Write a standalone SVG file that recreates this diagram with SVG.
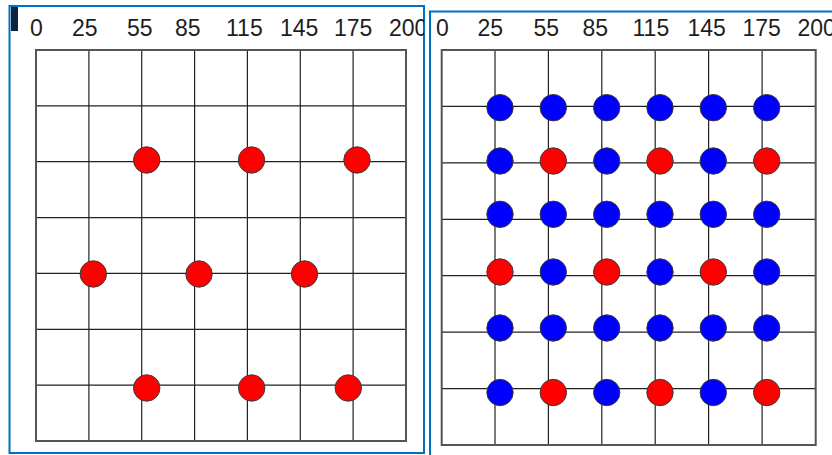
<svg xmlns="http://www.w3.org/2000/svg" width="832" height="455" viewBox="0 0 832 455">
<defs>
<clipPath id="lclip"><rect x="0" y="0" width="424" height="455"/></clipPath>
</defs>
<style>
.panel{fill:#fff;stroke:#0070c0;stroke-width:2}
.outer{fill:none;stroke:#555;stroke-width:2}
.grid{stroke:#222;stroke-width:1.2;fill:none}
.lbl{font-family:"Liberation Sans",Arial,sans-serif;font-size:23px;fill:#1e1e1e}
.r{fill:#ff0000;stroke:#3a3a3a;stroke-width:1}
.b{fill:#0000ff;stroke:#3a3a3a;stroke-width:1}
</style>
<rect width="832" height="455" fill="#fff"/>
<g id="left-panel">
<rect class="panel" x="9.5" y="6" width="414.5" height="447"/>
<rect x="11" y="7" width="7" height="24" fill="#0c2340"/>
<g class="lbl" clip-path="url(#lclip)">
<text x="30" y="35.5">0</text><text x="72" y="35.5">25</text><text x="127" y="35.5">55</text><text x="175" y="35.5">85</text><text x="226" y="35.5">115</text><text x="280" y="35.5">145</text><text x="334" y="35.5">175</text><text x="389" y="35.5">200</text>
</g>
<path class="grid" d="M88.9 50V441M141.7 50V441M194.6 50V441M247.4 50V441M300.3 50V441M353.1 50V441M36 105.9H406M36 161.7H406M36 217.6H406M36 273.4H406M36 329.3H406M36 385.1H406"/>
<rect class="outer" x="36" y="50" width="370" height="391"/>
</g>
<g id="left-dots">
<circle class="r" cx="146.7" cy="160" r="13.2"/><circle class="r" cx="251.5" cy="160" r="13.2"/><circle class="r" cx="357" cy="160" r="13.2"/>
<circle class="r" cx="93.3" cy="274" r="13.2"/><circle class="r" cx="199" cy="274" r="13.2"/><circle class="r" cx="304.5" cy="274" r="13.2"/>
<circle class="r" cx="146.7" cy="388" r="13.2"/><circle class="r" cx="251.7" cy="388" r="13.2"/><circle class="r" cx="348.3" cy="388" r="13.2"/>
</g>
<g id="right-panel">
<rect class="panel" x="430" y="11.5" width="420" height="460"/>
<g class="lbl">
<text x="436" y="35.5">0</text><text x="477.5" y="35.5">25</text><text x="533.5" y="35.5">55</text><text x="582.5" y="35.5">85</text><text x="632.5" y="35.5">115</text><text x="687.5" y="35.5">145</text><text x="742.5" y="35.5">175</text><text x="797.5" y="35.5">200</text>
</g>
<path class="grid" d="M495 50V445M548.4 50V445M601.8 50V445M655.2 50V445M708.6 50V445M762.1 50V445M441.7 106.4H815.7M441.7 162.9H815.7M441.7 219.3H815.7M441.7 275.7H815.7M441.7 332.1H815.7M441.7 388.6H815.7"/>
<rect class="outer" x="441.7" y="50" width="374" height="395"/>
</g>
<g id="right-dots">
<circle class="b" cx="500" cy="107.7" r="13.2"/><circle class="b" cx="553.3" cy="107.7" r="13.2"/><circle class="b" cx="606.7" cy="107.7" r="13.2"/><circle class="b" cx="660" cy="107.7" r="13.2"/><circle class="b" cx="713.3" cy="107.7" r="13.2"/><circle class="b" cx="766.7" cy="107.7" r="13.2"/>
<circle class="b" cx="500" cy="161" r="13.2"/><circle class="r" cx="553.3" cy="161" r="13.2"/><circle class="b" cx="606.7" cy="161" r="13.2"/><circle class="r" cx="660" cy="161" r="13.2"/><circle class="b" cx="713.3" cy="161" r="13.2"/><circle class="r" cx="766.7" cy="161" r="13.2"/>
<circle class="b" cx="500" cy="214.3" r="13.2"/><circle class="b" cx="553.3" cy="214.3" r="13.2"/><circle class="b" cx="606.7" cy="214.3" r="13.2"/><circle class="b" cx="660" cy="214.3" r="13.2"/><circle class="b" cx="713.3" cy="214.3" r="13.2"/><circle class="b" cx="766.7" cy="214.3" r="13.2"/>
<circle class="r" cx="500" cy="272" r="13.2"/><circle class="b" cx="553.3" cy="272" r="13.2"/><circle class="r" cx="606.7" cy="272" r="13.2"/><circle class="b" cx="660" cy="272" r="13.2"/><circle class="r" cx="713.3" cy="272" r="13.2"/><circle class="b" cx="766.7" cy="272" r="13.2"/>
<circle class="b" cx="500" cy="328" r="13.2"/><circle class="b" cx="553.3" cy="328" r="13.2"/><circle class="b" cx="606.7" cy="328" r="13.2"/><circle class="b" cx="660" cy="328" r="13.2"/><circle class="b" cx="713.3" cy="328" r="13.2"/><circle class="b" cx="766.7" cy="328" r="13.2"/>
<circle class="b" cx="500" cy="392.5" r="13.2"/><circle class="r" cx="553.3" cy="392.5" r="13.2"/><circle class="b" cx="606.7" cy="392.5" r="13.2"/><circle class="r" cx="660" cy="392.5" r="13.2"/><circle class="b" cx="713.3" cy="392.5" r="13.2"/><circle class="r" cx="766.7" cy="392.5" r="13.2"/>
</g>
</svg>
